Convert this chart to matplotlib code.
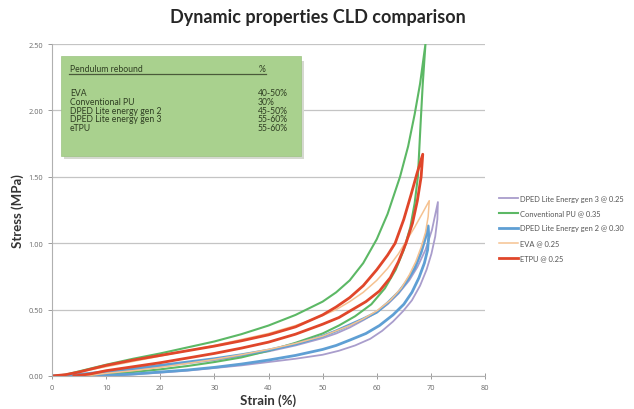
import matplotlib
matplotlib.use("Agg")
import matplotlib.pyplot as plt
from matplotlib.patches import Rectangle
from matplotlib.lines import Line2D

plt.rcParams['font.family'] = ['Lato', 'DejaVu Sans']

# ---- data (strain %, stress MPa) : loading branch then unloading branch ----
gen3_load_x = [0, 2.5, 5, 7.5, 10, 15, 20, 25, 30, 35, 40, 45, 50, 52.5, 55, 57.5, 60, 62, 64, 66, 67.5, 69, 70.2, 71.3]
gen3_load_y = [0, 0.004, 0.01, 0.018, 0.027, 0.047, 0.07, 0.095, 0.12, 0.15, 0.185, 0.23, 0.285, 0.32, 0.365, 0.42, 0.48, 0.54, 0.62, 0.72, 0.82, 0.95, 1.1, 1.31]
gen3_unl_x = [71.3, 71.2, 70.8, 70.1, 69.2, 68, 66.5, 64.9, 63, 61, 58.8, 56, 53, 50, 45, 40, 35, 30, 25, 20, 15, 11]
gen3_unl_y = [1.31, 1.18, 1.05, 0.92, 0.8, 0.68, 0.57, 0.49, 0.41, 0.34, 0.28, 0.23, 0.19, 0.16, 0.13, 0.105, 0.08, 0.06, 0.04, 0.025, 0.012, 0]

pu_load_x = [0, 2.5, 5, 7.5, 10, 15, 20, 25, 30, 35, 40, 45, 50, 52.5, 55, 57.5, 60, 62, 64.3, 65.8, 67, 68, 69]
pu_load_y = [0, 0.01, 0.035, 0.06, 0.085, 0.13, 0.17, 0.215, 0.26, 0.315, 0.38, 0.46, 0.56, 0.63, 0.72, 0.85, 1.03, 1.22, 1.5, 1.73, 1.97, 2.2, 2.5]
pu_unl_x = [69, 68.5, 68.1, 67.6, 67.0, 66.2, 65, 63.5, 61.5, 59, 56, 53, 50, 45, 40, 35, 30, 25, 20, 15, 10, 6]
pu_unl_y = [2.5, 2.2, 1.9, 1.5, 1.3, 1.12, 0.95, 0.8, 0.66, 0.54, 0.45, 0.38, 0.32, 0.25, 0.19, 0.14, 0.105, 0.075, 0.05, 0.03, 0.012, 0]

gen2_load_x = [0, 2.5, 5, 7.5, 10, 15, 20, 25, 30, 35, 40, 45, 50, 52.5, 55, 57.5, 60, 62, 64, 65.5, 67, 68.2, 69, 69.5]
gen2_load_y = [0, 0.005, 0.012, 0.022, 0.033, 0.055, 0.08, 0.105, 0.13, 0.16, 0.195, 0.24, 0.3, 0.34, 0.385, 0.43, 0.48, 0.55, 0.63, 0.71, 0.81, 0.93, 1.04, 1.13]
gen2_unl_x = [69.5, 69.6, 69.4, 68.8, 67.8, 66.5, 65, 63, 60.5, 58, 55, 52.5, 50, 45, 40, 35, 30, 25, 20, 15, 10, 8]
gen2_unl_y = [1.13, 1.05, 0.95, 0.85, 0.74, 0.63, 0.54, 0.46, 0.38, 0.32, 0.27, 0.23, 0.2, 0.155, 0.12, 0.09, 0.065, 0.045, 0.03, 0.015, 0.005, 0]

eva_load_x = [0, 2.5, 5, 7.5, 10, 15, 20, 25, 30, 35, 40, 45, 50, 52.5, 55, 57.5, 60, 62, 64, 65.5, 67, 68.5, 69.7]
eva_load_y = [0, 0.01, 0.03, 0.05, 0.07, 0.11, 0.15, 0.19, 0.23, 0.275, 0.32, 0.38, 0.455, 0.5, 0.56, 0.63, 0.72, 0.81, 0.92, 1.02, 1.12, 1.23, 1.32]
eva_unl_x = [69.7, 69.5, 69.0, 68.2, 67.2, 66, 64.5, 62.5, 60, 57.5, 55, 52.5, 50, 45, 40, 35, 30, 25, 20, 15, 10, 6]
eva_unl_y = [1.32, 1.2, 1.08, 0.97, 0.86, 0.76, 0.66, 0.57, 0.49, 0.43, 0.38, 0.34, 0.3, 0.245, 0.2, 0.16, 0.125, 0.095, 0.065, 0.04, 0.02, 0]

etpu_load_x = [0, 2.5, 5, 7.5, 10, 15, 20, 25, 30, 35, 40, 45, 50, 52.5, 55, 57.5, 60, 62, 63.4, 65, 66.3, 67.4, 68.5]
etpu_load_y = [0, 0.01, 0.03, 0.055, 0.08, 0.12, 0.155, 0.19, 0.225, 0.265, 0.31, 0.37, 0.46, 0.52, 0.59, 0.68, 0.8, 0.91, 1.0, 1.18, 1.36, 1.52, 1.67]
etpu_unl_x = [68.5, 68.2, 67.5, 66.6, 65.4, 64, 62.5, 60.5, 58, 55.5, 53, 50, 45, 40, 35, 30, 25, 20, 15, 10, 7, 4]
etpu_unl_y = [1.67, 1.5, 1.32, 1.15, 1.0, 0.86, 0.74, 0.64, 0.56, 0.5, 0.44, 0.39, 0.315, 0.255, 0.21, 0.17, 0.135, 0.1, 0.07, 0.04, 0.015, 0]

series_names = ["DPED Lite Energy gen 3 @ 0.25", "Conventional PU @ 0.35",
                "DPED Lite Energy gen 2 @ 0.30", "EVA @ 0.25", "ETPU @ 0.25"]

table_materials = ["EVA", "Conventional PU", "DPED Lite energy gen 2",
                   "DPED Lite energy gen 3", "eTPU"]
table_rebound = ["40-50%", "30%", "45-50%", "55-60%", "55-60%"]

x_ticks = [0, 10, 20, 30, 40, 50, 60, 70, 80]
y_ticks = [0.0, 0.5, 1.0, 1.5, 2.0, 2.5]

# ---- figure ----
W, H = 634, 410
fig = plt.figure(figsize=(W / 100, H / 100), dpi=100)
ax = fig.add_axes([52 / W, 1 - 377 / H, (485 - 52) / W, (377 - 45) / H])

colors = ["#a99dcc", "#5cb865", "#5f9fd4", "#f5c291", "#e0462a"]
widths = [1.3, 1.5, 2.0, 1.1, 2.0]
data = [(gen3_load_x, gen3_load_y, gen3_unl_x, gen3_unl_y),
        (pu_load_x, pu_load_y, pu_unl_x, pu_unl_y),
        (gen2_load_x, gen2_load_y, gen2_unl_x, gen2_unl_y),
        (eva_load_x, eva_load_y, eva_unl_x, eva_unl_y),
        (etpu_load_x, etpu_load_y, etpu_unl_x, etpu_unl_y)]

for (lx, ly, ux, uy), c, w, name in zip(data, colors, widths, series_names):
    ax.plot(list(lx) + list(ux[1:]), list(ly) + list(uy[1:]), color=c, lw=w,
            solid_joinstyle='round', solid_capstyle='round', label=name)

ax.set_xlim(0, 80)
ax.set_ylim(0, 2.5)
ax.set_xticks(x_ticks)
ax.set_yticks(y_ticks)
ax.set_xticklabels([str(t) for t in x_ticks])
ax.set_yticklabels([f"{t:.2f}" for t in y_ticks])
ax.tick_params(axis='both', labelsize=5.3, colors='#8c8c8c', labelcolor='#6a6a6a',
               length=3, width=0.6)
ax.tick_params(axis='x', direction='inout', length=4)
for lab in ax.get_xticklabels() + ax.get_yticklabels():
    lab.set_fontfamily(['Open Sans', 'DejaVu Sans'])
ax.grid(axis='y', color='#c4c4c4', lw=0.9)
ax.set_axisbelow(True)
for s in ['top', 'right']:
    ax.spines[s].set_visible(False)
for s in ['left', 'bottom']:
    ax.spines[s].set_color('#b0b0b0')
    ax.spines[s].set_linewidth(0.8)

ax.set_xlabel("Strain (%)", fontsize=9.5, fontweight='bold', color='#333333', labelpad=2)
ax.set_ylabel("Stress (MPa)", fontsize=9.5, fontweight='bold', color='#333333', labelpad=3)

fig.text(318 / W, 1 - 18 / H, "Dynamic properties CLD comparison", ha='center', va='center',
         fontsize=13, fontweight='bold', color='#262626')

# legend
handles = [Line2D([0], [0], color=c, lw=w) for c, w in zip(colors, widths)]
fig.legend(handles, series_names, loc='upper left', bbox_to_anchor=(492 / W, 1 - 189 / H),
           frameon=False, fontsize=5.4, handlelength=2.6, handletextpad=0.2,
           labelspacing=1.05, labelcolor='#555555')

# table box
def fx(px):
    return px / W

def fy(py):
    return 1 - py / H

shadow = Rectangle((fx(64), fy(160)), fx(302) - fx(62), fy(59) - fy(157),
                   transform=fig.transFigure, facecolor='#d5d9d0', edgecolor='none', zorder=3)
fig.patches.append(shadow)
box = Rectangle((fx(61), fy(157)), fx(301) - fx(61), fy(57) - fy(157),
                transform=fig.transFigure, facecolor='#a9d18e', edgecolor='#9cc482',
                lw=0.5, zorder=4)
fig.patches.append(box)
tc = '#2f3e22'
fs = 6.2
fig.text(fx(70), fy(70), "Pendulum rebound", fontsize=fs, color=tc, va='center', zorder=5)
fig.text(fx(259), fy(70), "%", fontsize=fs, color=tc, va='center', zorder=5)
fig.lines.append(Line2D([fx(69), fx(266)], [fy(74.5), fy(74.5)], transform=fig.transFigure,
                        color='#4a5a3a', lw=0.9, zorder=5))
row_y = [93.3, 102.3, 111.3, 120, 128.7]
for yy, m, r in zip(row_y, table_materials, table_rebound):
    fig.text(fx(70), fy(yy), m, fontsize=fs, color=tc, va='center', zorder=5)
    fig.text(fx(258), fy(yy), r, fontsize=fs, color=tc, va='center', zorder=5)

fig.savefig("out.png", dpi=100, facecolor='white')
